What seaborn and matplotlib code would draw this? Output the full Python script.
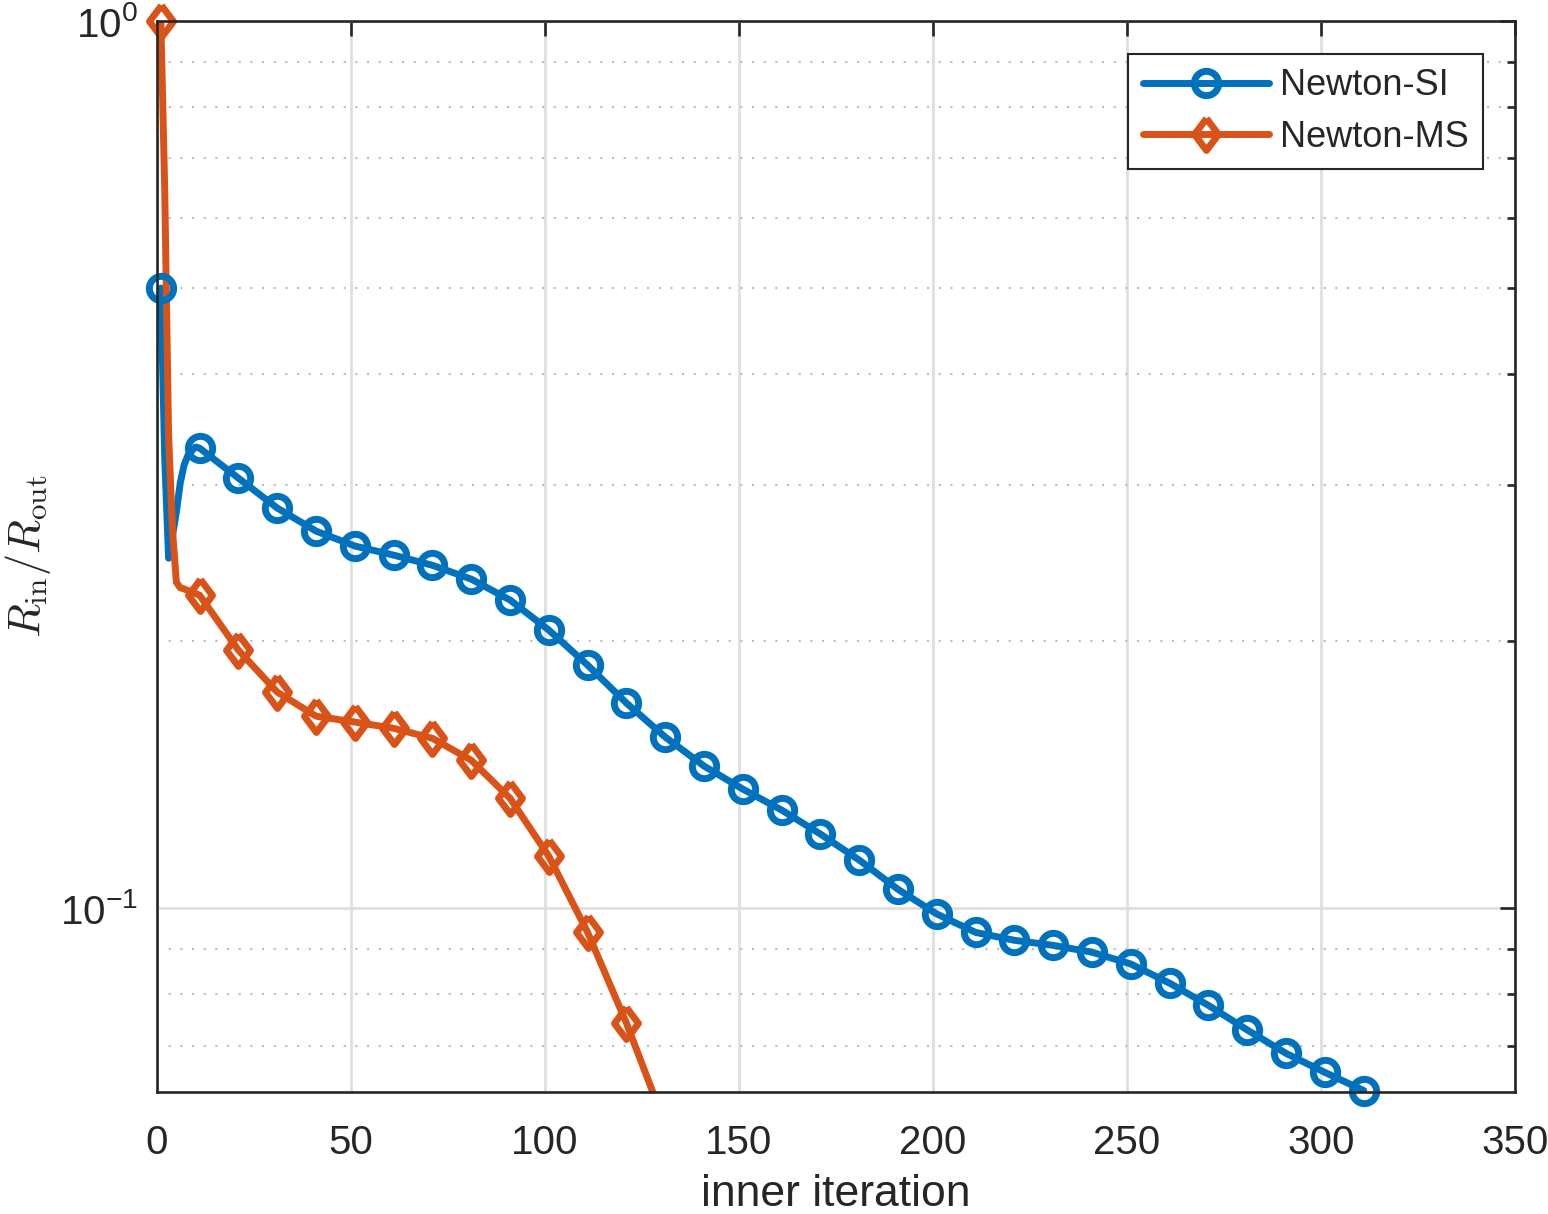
import numpy as np
import matplotlib
matplotlib.use("Agg")
import matplotlib.pyplot as plt
import seaborn as sns
from matplotlib.lines import Line2D
from matplotlib.ticker import LogLocator, NullFormatter

# --- donnees ---
# Newton-SI : iterations internes et rapport R_in / R_out
si_iter = [1, 2, 3, 4, 5, 6, 7, 8, 9, 10,
           11, 21, 31, 41, 51, 61, 71, 81, 91, 101,
           111, 121, 131, 141, 151, 161, 171, 181, 191, 201,
           211, 221, 231, 241, 251, 261, 271, 281, 291, 301, 311]
si_vals = [0.500, 0.321, 0.248, 0.263, 0.2795, 0.3015, 0.316, 0.324, 0.328, 0.331,
           0.330, 0.3053, 0.2825, 0.2661, 0.2560, 0.2500, 0.2435, 0.2349, 0.2225, 0.2058,
           0.1879, 0.1703, 0.1559, 0.1446, 0.1362, 0.1290, 0.1212, 0.1133, 0.1050, 0.0985,
           0.0939, 0.0920, 0.0908, 0.0892, 0.0865, 0.0823, 0.0777, 0.0729, 0.0686, 0.0653, 0.0623]

# Newton-MS
ms_iter = [1, 2, 3, 4, 5, 6, 7,
           11, 21, 31, 41, 51, 61, 71, 81, 91, 101, 111, 121, 128]
ms_vals = [1.000, 0.645, 0.341, 0.267, 0.233, 0.2297, 0.229,
           0.2253, 0.1953, 0.1752, 0.1646, 0.1621, 0.1595, 0.1554, 0.1468, 0.1330,
           0.1144, 0.0939, 0.0742, 0.0617]

labels = ["Newton-SI", "Newton-MS"]
couleurs = ["#0072BD", "#D95319"]

sns.set_style("white")
plt.rcParams["font.family"] = ["Liberation Sans", "DejaVu Sans"]

fig = plt.figure(figsize=(15.48, 12.14), dpi=100)
ax = fig.add_axes([0.1014, 0.1007, 0.8773, 0.8820])

diamant = [(0, 1), (0.75, 0), (0, -1), (-0.75, 0), (0, 1)]
styles = [dict(marker="o", markersize=17.5), dict(marker=diamant, markersize=23)]
lw = 5

handles = []
for iters, vals, lab, col, st in zip([si_iter, ms_iter], [si_vals, ms_vals], labels, couleurs, styles):
    # courbe complete
    sns.lineplot(x=iters, y=vals, ax=ax, color=col, linewidth=lw, sort=False,
                 estimator=None, solid_joinstyle="round", solid_capstyle="round")
    # marqueurs toutes les 10 iterations (non coupes par le cadre, comme MATLAB)
    mx = [it for it in iters if (it - 1) % 10 == 0]
    my = [v for it, v in zip(iters, vals) if (it - 1) % 10 == 0]
    sns.lineplot(x=mx, y=my, ax=ax, color=col, linestyle="", sort=False, estimator=None,
                 markerfacecolor="none", markeredgecolor=col, markeredgewidth=lw,
                 clip_on=False, zorder=3, **st)
    handles.append(Line2D([], [], color=col, linewidth=lw, markerfacecolor="none",
                          markeredgecolor=col, markeredgewidth=lw, **st))

ax.set_yscale("log")
ax.set_xlim(0, 350)
ax.set_ylim(0.0621, 1.0)
ax.set_xticks(np.arange(0, 351, 50))
ax.yaxis.set_minor_locator(LogLocator(base=10, subs=np.arange(2, 10)))
ax.yaxis.set_minor_formatter(NullFormatter())

ax.grid(True, which="major", color="#dfdfdf", linewidth=2, linestyle="-")
ax.grid(True, which="minor", axis="y", color="#bdbdbd", linewidth=1.5, linestyle=(0, (1, 4.6)))
ax.set_axisbelow(True)

for sp in ax.spines.values():
    sp.set_visible(True)
    sp.set_color("#262626")
    sp.set_linewidth(1.9)
    sp.set_zorder(4)

ax.tick_params(which="both", direction="in", top=True, right=True, color="#262626",
               width=1.9, labelcolor="#262626", labelsize=29)
ax.tick_params(which="major", length=10.5)
ax.tick_params(which="minor", length=6)
ax.tick_params(axis="x", pad=23)
ax.tick_params(axis="y", pad=14)

ax.set_xlabel("inner iteration", fontsize=32, color="#262626", labelpad=9)
ax.set_ylabel(r"$R_{\rm in}/R_{\rm out}$", fontsize=32, color="#262626",
              math_fontfamily="cm", labelpad=5)

leg = ax.legend(handles, labels, loc="upper right", bbox_to_anchor=(0.9764, 0.9692),
                borderaxespad=0, frameon=True, fancybox=False, framealpha=1,
                edgecolor="#262626", fontsize=26, handlelength=3.5, handletextpad=0.3,
                borderpad=0.4, labelspacing=0.45)
leg.get_frame().set_linewidth(1.5)
leg.set_zorder(5)

fig.savefig("out.png", dpi=100)
